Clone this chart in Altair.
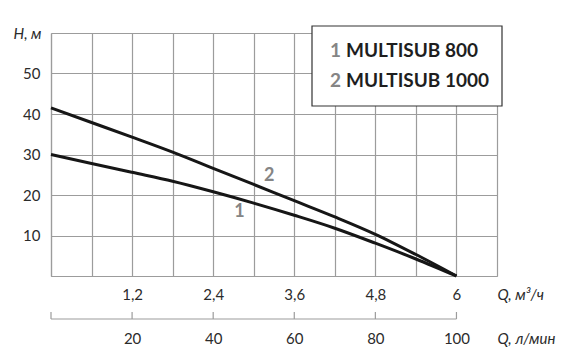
import altair as alt
import pandas as pd

# ---- data ----
q = [0, 0.6, 1.2, 1.8, 2.4, 3.0, 3.6, 4.2, 4.8, 5.4, 6.0]
h_800 = [30.0, 27.8, 25.6, 23.4, 20.8, 18.0, 15.0, 11.8, 8.1, 4.2, 0]
h_1000 = [41.5, 37.9, 34.3, 30.6, 26.6, 22.6, 18.6, 14.6, 10.3, 5.3, 0]

series_ids = ["1", "2"]
series_names = ["MULTISUB 800", "MULTISUB 1000"]
label_q = [2.79, 3.23]
label_h = [15.7, 24.6]

q_grid = [0, 0.6, 1.2, 1.8, 2.4, 3.0, 3.6, 4.2, 4.8, 5.4, 6.0, 6.6]
q_labels = {1.2: "1,2", 2.4: "2,4", 3.6: "3,6", 4.8: "4,8", 6.0: "6"}
h_grid = [0, 10, 20, 30, 40, 50, 60]
h_labels = [10, 20, 30, 40, 50]
lmin_ticks = [0, 20, 40, 60, 80, 100]
lmin_labels = [20, 40, 60, 80, 100]

FONT = "Lato"
TXT = "#2b2b2b"
GRID = "#9c9c9c"
GRAY = "#858585"

df = pd.DataFrame(
    {"q": q * 2, "h": h_800 + h_1000, "s": ["1"] * len(q) + ["2"] * len(q)}
)
df_lab = pd.DataFrame({"q": label_q, "h": label_h, "t": series_ids})

expr_parts = " : ".join(
    f"datum.value == {k} ? '{v}'" for k, v in q_labels.items()
)
q_label_expr = expr_parts + " : ''"
h_label_expr = " || ".join(f"datum.value == {v}" for v in h_labels)
h_label_expr = f"({h_label_expr}) ? datum.label : ''"

xscale = alt.Scale(domain=[0, 6.6], nice=False, zero=False)
yscale = alt.Scale(domain=[0, 60], nice=False)

lines = alt.Chart(df).mark_line(
    color="#161616", strokeWidth=3, interpolate="monotone"
).encode(
    x=alt.X(
        "q:Q",
        scale=xscale,
        axis=alt.Axis(
            values=q_grid,
            grid=True,
            gridColor=GRID,
            gridWidth=1.2,
            domainColor=GRID,
            domainWidth=1.2,
            ticks=False,
            tickSize=0,
            labelExpr=q_label_expr,
            labelFont=FONT,
            labelFontSize=15,
            labelColor=TXT,
            labelBaseline="alphabetic",
            labelPadding=23,
            labelFlush=False,
            title="Q, м³/ч",
            titleFont=FONT,
            titleFontSize=15,
            titleFontStyle="italic",
            titleFontWeight="normal",
            titleColor=TXT,
            titleAlign="left",
            titleBaseline="alphabetic",
            titleAnchor="start",
            titleX=446,
            titleY=23,
        ),
    ),
    y=alt.Y(
        "h:Q",
        scale=yscale,
        axis=alt.Axis(
            values=h_grid,
            grid=True,
            gridColor=GRID,
            gridWidth=1.2,
            domainColor=GRID,
            domainWidth=1.2,
            ticks=False,
            tickSize=0,
            labelExpr=h_label_expr,
            labelFont=FONT,
            labelFontSize=15,
            labelColor=TXT,
            labelPadding=11,
            title="H, м",
            titleFont=FONT,
            titleFontSize=15,
            titleFontStyle="italic",
            titleFontWeight="normal",
            titleColor=TXT,
            titleAngle=0,
            titleAlign="left",
            titleBaseline="alphabetic",
            titleX=-38,
            titleY=5,
        ),
    ),
    detail="s:N",
)

curve_labels = alt.Chart(df_lab).mark_text(
    font=FONT, fontSize=18, fontWeight="bold", color=GRAY,
    align="center", baseline="middle",
).encode(
    x=alt.X("q:Q", scale=xscale),
    y=alt.Y("h:Q", scale=yscale),
    text="t:N",
)

one = pd.DataFrame({"a": [0]})
legend_box = alt.Chart(one).mark_rect(
    fill="white", stroke="#333333", strokeWidth=1.2
).encode(
    x=alt.value(261), x2=alt.value(451), y=alt.value(-7), y2=alt.value(73)
)

legend_layers = [legend_box]
for i, (sid, name) in enumerate(zip(series_ids, series_names)):
    yb = 24 + 30 * i
    legend_layers.append(
        alt.Chart(one).mark_text(
            font=FONT, fontSize=19, fontWeight="bold", color=GRAY,
            align="left", baseline="alphabetic",
        ).encode(x=alt.value(279), y=alt.value(yb), text=alt.value(sid))
    )
    legend_layers.append(
        alt.Chart(one).mark_text(
            font=FONT, fontSize=19, fontWeight="bold", color="#1e1e1e",
            align="left", baseline="alphabetic",
        ).encode(x=alt.value(295), y=alt.value(yb), text=alt.value(name))
    )

main = alt.layer(lines, curve_labels, *legend_layers)

# secondary axis (л/мин)
lscale = alt.Scale(domain=[0, 110], nice=False, zero=False)
df_lt = pd.DataFrame({"l": lmin_ticks})
df_ll = pd.DataFrame({"l": [lmin_ticks[0]], "l1": [lmin_ticks[-1]]})

sec_axis = alt.Axis(
    orient="bottom",
    offset=43,
    values=lmin_labels,
    grid=False,
    domain=False,
    ticks=False,
    tickSize=0,
    labelFont=FONT,
    labelFontSize=15,
    labelColor=TXT,
    labelBaseline="alphabetic",
    labelPadding=24,
    labelFlush=False,
    title="Q, л/мин",
    titleFont=FONT,
    titleFontSize=15,
    titleFontStyle="italic",
    titleFontWeight="normal",
    titleColor=TXT,
    titleAlign="left",
    titleBaseline="alphabetic",
    titleAnchor="start",
    titleX=446,
    titleY=24,
)

sec_ticks = alt.Chart(df_lt).mark_rule(color=GRID, strokeWidth=1.2).encode(
    x=alt.X("l:Q", scale=lscale, axis=sec_axis),
    y=alt.value(279),
    y2=alt.value(286),
)
sec_line = alt.Chart(df_ll).mark_rule(color=GRID, strokeWidth=1.2).encode(
    x=alt.X("l:Q", scale=lscale, axis=sec_axis),
    x2="l1:Q",
    y=alt.value(286),
)
secondary = alt.layer(sec_ticks, sec_line)

chart = (
    alt.layer(main, secondary)
    .resolve_scale(x="independent")
    .properties(
        width=446,
        height=243,
        autosize=alt.AutoSizeParams(type="none"),
        padding={"left": 51, "top": 33, "right": 78, "bottom": 82},
        background="white",
    )
    .configure_view(stroke=None)
)

chart.save("out.html", embed_options={"renderer": "svg", "actions": False})
